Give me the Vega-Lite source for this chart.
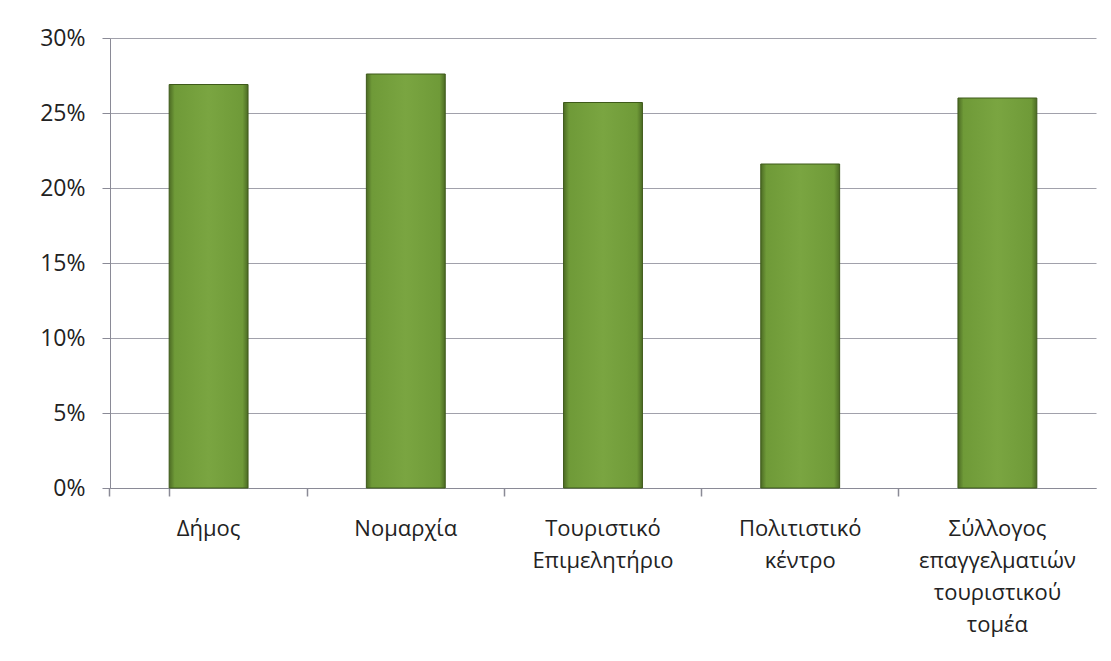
{
  "$schema": "https://vega.github.io/schema/vega-lite/v6.json",
  "autosize": "none",
  "width": 986,
  "height": 450,
  "padding": {"left": 110, "top": 38, "right": 15, "bottom": 173},
  "background": "white",
  "config": {
    "view": {"stroke": null},
    "font": "Open Sans"
  },
  "data": {
    "values": [
      {"category": "Δήμος", "share": 0.269},
      {"category": "Νομαρχία", "share": 0.276},
      {"category": "Τουριστικό|Επιμελητήριο", "share": 0.257},
      {"category": "Πολιτιστικό|κέντρο", "share": 0.216},
      {"category": "Σύλλογος|επαγγελματιών|τουριστικού|τομέα", "share": 0.26}
    ]
  },
  "mark": {
    "type": "bar",
    "stroke": "#3E5A1A",
    "strokeWidth": 1,
    "color": {
      "gradient": "linear",
      "x1": 0, "y1": 0, "x2": 1, "y2": 0,
      "stops": [
        {"offset": 0, "color": "#4C6B24"},
        {"offset": 0.07, "color": "#6F9A38"},
        {"offset": 0.5, "color": "#7AA541"},
        {"offset": 0.93, "color": "#6F9A38"},
        {"offset": 1, "color": "#4C6B24"}
      ]
    }
  },
  "encoding": {
    "x": {
      "field": "category",
      "type": "nominal",
      "sort": null,
      "scale": {"paddingInner": 0.6, "paddingOuter": 0.3},
      "axis": {
        "title": null,
        "labelAngle": 0,
        "labelExpr": "datum.value ? split(datum.value, '|') : ''",
        "labelFontSize": 22,
        "labelColor": "#222222",
        "labelLineHeight": 32,
        "labelPadding": 22,
        "labelBaseline": "top",
        "bandPosition": -0.75,
        "tickExtra": true,
        "tickSize": 8,
        "tickWidth": 1.5,
        "tickColor": "#8A8A96",
        "domainColor": "#8A8A96",
        "grid": false
      }
    },
    "y": {
      "field": "share",
      "type": "quantitative",
      "scale": {"domain": [0, 0.3], "nice": false},
      "axis": {
        "title": null,
        "format": ".0%",
        "values": [0, 0.05, 0.1, 0.15, 0.2, 0.25, 0.3],
        "labelFontSize": 23,
        "labelColor": "#222222",
        "labelPadding": 17,
        "tickSize": 8,
        "tickColor": "#8A8A96",
        "domainColor": "#8A8A96",
        "grid": true,
        "gridColor": "#8A8A96",
        "gridOpacity": 0.8
      }
    }
  }
}
